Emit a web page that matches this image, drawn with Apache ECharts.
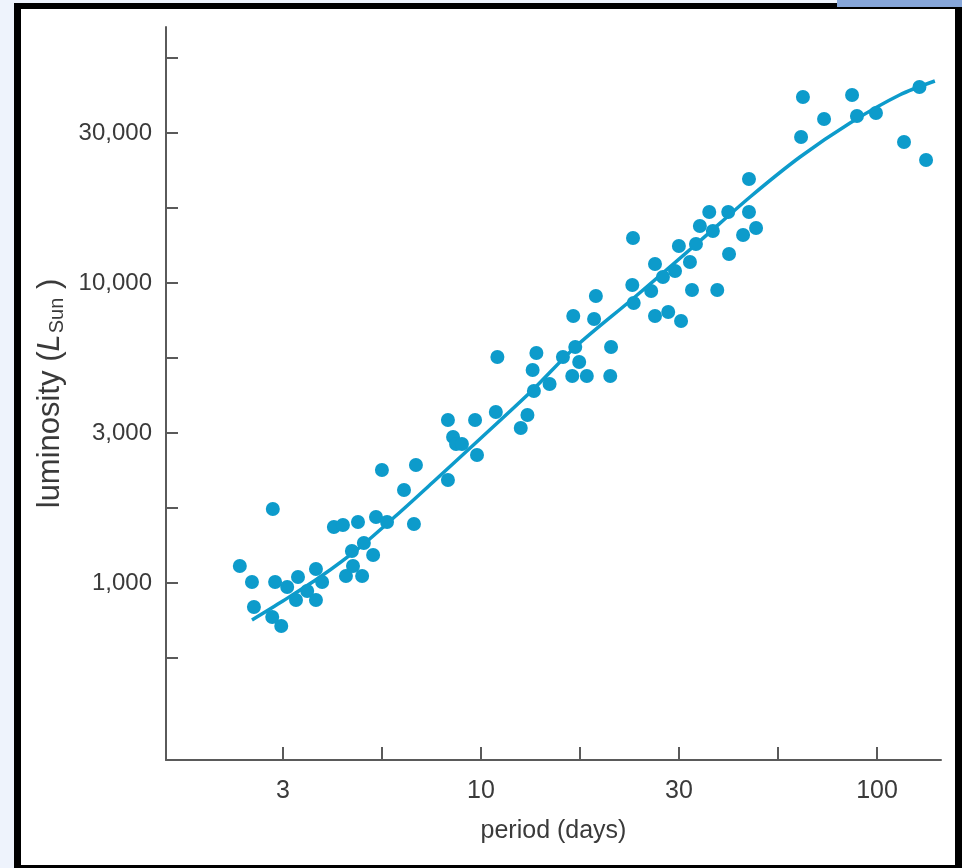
<!doctype html>
<html>
    <head>
        <meta charset="utf-8">
        <title>Period-luminosity relation</title>
        <style>
            html, body { margin: 0; padding: 0; background: #eef3fc; }
            #main { position: absolute; left: 0; top: 0; width: 962px; height: 868px; background: #fff; }
            .pad { position: absolute; background: #eef3fc; pointer-events: none; }
            #frame {
                position: absolute; left: 14px; top: 3px; width: 948px; height: 865px;
                box-sizing: border-box; border: solid #000; border-width: 6px 7px 3px 7px;
                pointer-events: none;
            }
            #tab { position: absolute; left: 837px; top: 0; width: 125px; height: 7px; background: #86a6d9; pointer-events: none; }
        </style>
    </head>
    <body>
        <div id="main"></div>
        <div class="pad" style="left:0;top:0;width:14px;height:868px"></div>
        <div class="pad" style="left:0;top:0;width:962px;height:3px"></div>
        <div id="frame"></div>
        <div id="tab"></div>
        <script src="https://cdn.jsdelivr.net/npm/echarts@6/dist/echarts.min.js"></script>
        <script>
            var chart = echarts.init(document.getElementById('main'));

            // Cepheid stars: pulsation period (days) and luminosity (solar units)
            var periods = [
                2.46, 2.64, 2.67, 2.98, 2.97, 3.02, 3.13, 3.24, 3.41, 3.45,
                3.64, 3.83, 3.83, 3.97, 4.25, 4.48, 4.56, 4.72, 4.75, 4.89,
                5.01, 5.06, 5.34, 5.43, 5.62, 5.79, 6.39, 6.77, 6.85, 8.25,
                8.25, 8.50, 8.65, 8.95, 9.66, 9.77, 10.9, 11.0, 12.6, 13.1,
                13.5, 13.8, 13.6, 14.9, 16.1, 17.0, 17.1, 17.3, 17.7, 18.5,
                19.3, 19.5, 21.3, 21.2, 24.2, 24.1, 24.3, 26.9, 27.5, 27.5,
                28.8, 29.7, 30.9, 31.6, 32.0, 33.7, 34.1, 34.9, 35.7, 37.7,
                38.5, 39.5, 42.1, 42.3, 45.9, 47.5, 47.5, 49.5, 64.3, 65.0,
                73.5, 86.5, 89.0, 99.4, 117, 128, 133
            ];
            var luminosities = [
                1139, 1008, 832, 1765, 770, 1008, 719, 970, 878, 1047,
                940, 1113, 878, 1008, 1537, 1561, 1055, 1278, 1139, 1597,
                1055, 1359, 1240, 1660, 2380, 1597, 2042, 1573, 2474, 3494,
                2204, 3066, 2906, 2906, 3494, 2671, 3715, 5665, 3286, 3631,
                5129, 5843, 4365, 4606, 5665, 4898, 7762, 6119, 5452, 4898,
                7586, 9050, 6119, 4898, 14125, 9847, 8577, 9404, 11570, 7762,
                10470, 8005, 10965, 13285, 7470, 11750, 9477, 13490, 15488, 17250,
                14910, 9477, 17250, 12497, 14454, 17250, 22220, 15260, 30660, 41690,
                35220, 42340, 36030, 36870, 29510, 45010, 25700
            ];

            // best-fit relation drawn through the points
            var fitPeriods = [2.64, 3.16, 3.92, 4.95, 6.25, 7.57, 10.0, 13.5, 17.3, 24.3, 35.7, 47.8, 63.9, 85.5, 114, 140];
            var fitLuminosities = [753, 871, 1047, 1318, 1725, 2171, 3043, 4398, 6119, 8913, 13800, 19350, 26300, 34150, 42340, 47130];

            // axis ticks (log10 units) and their printed labels
            var xTicks = [0.5, 0.75, 1, 1.25, 1.5, 1.75, 2];
            var xLabelPos = [0.5, 1, 1.5, 2];
            var xLabelText = ['3', '10', '30', '100'];
            var yTicks = [2.75, 3, 3.25, 3.5, 3.75, 4, 4.25, 4.5, 4.75];
            var yLabelPos = [3, 3.5, 4, 4.5];
            var yLabelText = ['1,000', '3,000', '10,000', '30,000'];

            var FONT = "'Liberation Sans Narrow', 'Liberation Sans', Arial, sans-serif";
            var TEXT = '#3a3a3a';
            var AXIS = '#5a5a5a';
            var BLUE = '#0d9bcb';

            function lookup(pos, text) {
                return function (v) {
                    for (var i = 0; i < pos.length; i++) {
                        if (Math.abs(pos[i] - v) < 1e-6) return text[i];
                    }
                    return '';
                };
            }

            var dots = periods.map(function (p, i) {
                return [Math.log10(p), Math.log10(luminosities[i])];
            });
            var fit = fitPeriods.map(function (p, i) {
                return [Math.log10(p), Math.log10(fitLuminosities[i])];
            });

            chart.setOption({
                animation: false,
                grid: {
                    left: 166,
                    right: 21,
                    top: 27,
                    bottom: 108
                },
                xAxis: {
                    type: 'value',
                    min: 0.2045,
                    max: 2.1616,
                    name: 'period (days)',
                    nameLocation: 'middle',
                    nameGap: 59,
                    nameTextStyle: { fontFamily: FONT, fontSize: 25, color: TEXT },
                    splitLine: { show: false },
                    axisLine: { onZero: false, lineStyle: { color: AXIS, width: 2 } },
                    axisTick: {
                        customValues: xTicks,
                        inside: true,
                        length: 13,
                        lineStyle: { color: AXIS, width: 2 }
                    },
                    axisLabel: {
                        customValues: xLabelPos,
                        formatter: lookup(xLabelPos, xLabelText),
                        margin: 19,
                        fontFamily: FONT,
                        fontSize: 25,
                        color: TEXT
                    }
                },
                yAxis: {
                    type: 'value',
                    min: 2.41,
                    max: 4.8533,
                    name: 'luminosity ({i|L}{s|Sun} )',
                    nameLocation: 'middle',
                    nameGap: 76,
                    nameTextStyle: {
                        fontFamily: FONT,
                        fontSize: 31,
                        color: TEXT,
                        rich: {
                            i: { fontFamily: FONT, fontSize: 31, fontStyle: 'italic', color: TEXT },
                            s: { fontFamily: FONT, fontSize: 20, color: TEXT, verticalAlign: 'bottom', padding: [14, 0, 0, 1] }
                        }
                    },
                    splitLine: { show: false },
                    axisLine: { onZero: false, lineStyle: { color: AXIS, width: 2 } },
                    axisTick: {
                        customValues: yTicks,
                        inside: true,
                        length: 12,
                        lineStyle: { color: AXIS, width: 2 }
                    },
                    axisLabel: {
                        customValues: yLabelPos,
                        formatter: lookup(yLabelPos, yLabelText),
                        margin: 14,
                        fontFamily: FONT,
                        fontSize: 24,
                        color: TEXT
                    }
                },
                series: [{
                    type: 'line',
                    data: fit,
                    smooth: 0.3,
                    showSymbol: false,
                    lineStyle: { color: BLUE, width: 3.5 },
                    z: 2
                }, {
                    type: 'scatter',
                    data: dots,
                    symbolSize: 14,
                    itemStyle: { color: BLUE, opacity: 1 },
                    z: 3
                }]
            });
        </script>
    </body>
</html>
